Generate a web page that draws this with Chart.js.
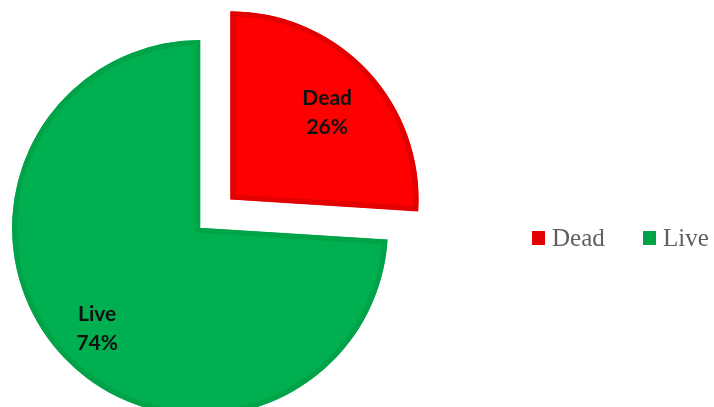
<!DOCTYPE html>
<html>
<head>
<meta charset="utf-8">
<script src="https://cdn.jsdelivr.net/npm/chart.js@4/dist/chart.umd.min.js"></script>
<style>
  html, body { margin: 0; padding: 0; background: #ffffff; overflow: hidden; }
  #wrap { position: relative; width: 714px; height: 407px; }
</style>
</head>
<body>
<div id="wrap"><canvas id="pie" width="714" height="407"></canvas></div>
<script>
// Share of dead vs. live cells
const categories = ['Dead', 'Live'];
const percentages = [26, 74];
const sliceColors = ['#ff0000', '#00b050'];
const sliceBorders = ['#e20000', '#00a347'];
const sliceOffsets = [168, 0]; // arc offset (Chart.js draws a quarter of this as the shift)

// Text drawn inside each slice: name on one line, percentage below
const sliceLabels = {
  id: 'sliceLabels',
  afterDatasetsDraw(chart) {
    const ctx = chart.ctx;
    const meta = chart.getDatasetMeta(0);
    const fracs = [0.69, 0.765];
    ctx.save();
    ctx.font = 'bold 21px Lato, "Open Sans", sans-serif';
    ctx.fillStyle = '#111111';
    ctx.textAlign = 'center';
    ctx.textBaseline = 'middle';
    meta.data.forEach((arc, i) => {
      const p = arc.getProps(['x', 'y', 'startAngle', 'endAngle', 'outerRadius'], true);
      const mid = (p.startAngle + p.endAngle) / 2;
      const shift = (arc.options.offset || 0) / 4;
      const d = shift + p.outerRadius * fracs[i];
      const cx = p.x + Math.cos(mid) * d + 2;
      const cy = p.y + Math.sin(mid) * d + 2;
      ctx.fillText(categories[i], cx, cy - 14.5);
      ctx.fillText(percentages[i] + '%', cx, cy + 14.5);
    });
    ctx.restore();
  }
};

// Single-row legend to the right of the pie
const rowLegend = {
  id: 'rowLegend',
  afterDraw(chart) {
    const ctx = chart.ctx;
    const ds = chart.data.datasets[0];
    const starts = [532, 643];
    ctx.save();
    ctx.font = '25px "Liberation Serif", "Times New Roman", serif';
    ctx.textBaseline = 'alphabetic';
    ctx.textAlign = 'left';
    chart.data.labels.forEach((lab, i) => {
      const x = starts[i];
      ctx.fillStyle = ds.borderColor[i];
      ctx.fillRect(x, 231, 13, 14);
      ctx.fillStyle = '#5f5f5f';
      ctx.fillText(lab, x + 20, 246);
    });
    ctx.restore();
  }
};

new Chart(document.getElementById('pie'), {
  type: 'pie',
  data: {
    labels: categories,
    datasets: [{
      data: percentages,
      backgroundColor: sliceColors,
      borderColor: sliceBorders,
      borderWidth: 5,
      borderAlign: 'inner',
      offset: sliceOffsets
    }]
  },
  options: {
    responsive: false,
    animation: false,
    radius: 188,
    layout: { padding: { left: 0, top: 49, right: 314, bottom: 0 } },
    plugins: {
      legend: { display: false },
      tooltip: { enabled: false }
    }
  },
  plugins: [sliceLabels, rowLegend]
});
</script>
</body>
</html>
